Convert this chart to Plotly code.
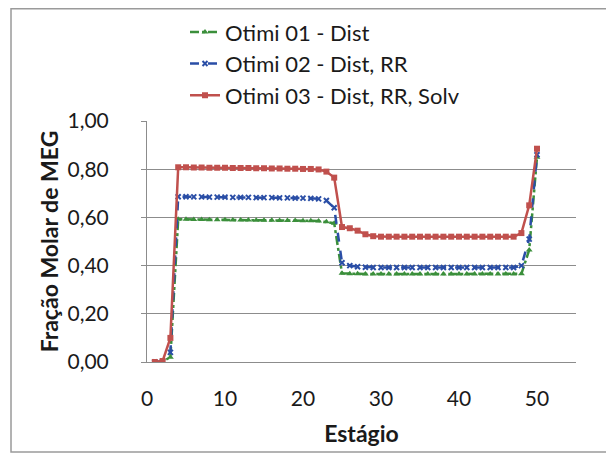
import plotly.graph_objects as go

stages = list(range(1, 51))

otimi01 = [0.000, 0.002, 0.020, 0.592, 0.592, 0.591, 0.591, 0.590, 0.590, 0.590,
           0.589, 0.589, 0.589, 0.588, 0.588, 0.588, 0.587, 0.587, 0.587, 0.586,
           0.586, 0.585, 0.582, 0.576, 0.368, 0.366, 0.366, 0.365, 0.365, 0.365,
           0.365, 0.365, 0.365, 0.365, 0.365, 0.365, 0.365, 0.365, 0.365, 0.365,
           0.365, 0.365, 0.365, 0.365, 0.365, 0.365, 0.365, 0.366, 0.465, 0.850]

otimi02 = [0.000, 0.002, 0.040, 0.686, 0.686, 0.685, 0.685, 0.684, 0.684, 0.684,
           0.683, 0.683, 0.683, 0.682, 0.682, 0.682, 0.681, 0.681, 0.680, 0.680,
           0.679, 0.677, 0.670, 0.640, 0.412, 0.400, 0.395, 0.393, 0.392, 0.392,
           0.392, 0.392, 0.392, 0.392, 0.392, 0.392, 0.392, 0.392, 0.392, 0.392,
           0.392, 0.392, 0.392, 0.392, 0.392, 0.392, 0.392, 0.400, 0.510, 0.860]

otimi03 = [0.000, 0.004, 0.100, 0.808, 0.808, 0.807, 0.807, 0.806, 0.806, 0.806,
           0.805, 0.805, 0.805, 0.804, 0.804, 0.803, 0.803, 0.802, 0.802, 0.801,
           0.801, 0.799, 0.790, 0.765, 0.560, 0.555, 0.545, 0.530, 0.522, 0.520,
           0.520, 0.520, 0.520, 0.520, 0.520, 0.520, 0.520, 0.520, 0.520, 0.520,
           0.520, 0.520, 0.520, 0.520, 0.520, 0.520, 0.520, 0.535, 0.650, 0.885]

names = ["Otimi 01 - Dist", "Otimi 02 - Dist, RR", "Otimi 03 - Dist, RR, Solv"]
x_ticks = [0, 10, 20, 30, 40, 50]
y_ticks = [0.0, 0.2, 0.4, 0.6, 0.8, 1.0]

FONT = "Lato, Open Sans, sans-serif"
GREEN = "#3b8f3b"
BLUE = "#2a4ea6"
RED = "#c0504d"

fig = go.Figure()
fig.add_trace(go.Scatter(x=stages, y=otimi01, name=names[0], mode="lines+markers",
                         legendgroup="a",
                         line=dict(color=GREEN, width=2.5, dash="dashdot"),
                         marker=dict(symbol="triangle-up", size=6, color=GREEN)))
fig.add_trace(go.Scatter(x=stages, y=otimi02, name=names[1], mode="lines+markers",
                         legendgroup="b",
                         line=dict(color=BLUE, width=2.5, dash="dash"),
                         marker=dict(symbol="x-thin", size=5, color=BLUE,
                                     line=dict(color=BLUE, width=2))))
fig.add_trace(go.Scatter(x=stages, y=otimi03, name=names[2], mode="lines+markers",
                         legendgroup="c",
                         line=dict(color=RED, width=2.5),
                         marker=dict(symbol="square", size=6, color=RED)))

# the page body adds an 8px margin, so the figure is 8px smaller than the window
fig.update_layout(
    width=606, height=448,
    margin=dict(l=139, r=38, t=113, b=94, autoexpand=False),
    paper_bgcolor="white", plot_bgcolor="white",
    separators=",.",
    font=dict(family=FONT, size=21, color="#1a1a1a"),
    showlegend=True,
    legend=dict(x=0.0886, y=0.993, xanchor="left", yanchor="top", yref="container",
                bgcolor="rgba(0,0,0,0)", traceorder="grouped",
                tracegroupgap=0, font=dict(size=22, family=FONT)),
    xaxis=dict(range=[0, 55], tickvals=x_ticks, showgrid=False,
               showline=True, linecolor="#8c8c8c", linewidth=1,
               zeroline=False, ticks="", ticklabelstandoff=18,
               title=dict(text="<b>Estágio</b>", font=dict(size=23), standoff=16)),
    yaxis=dict(range=[0, 1.0], tickvals=y_ticks, tickformat=".2f",
               showgrid=True, gridcolor="#8c8c8c", gridwidth=1,
               showline=True, linecolor="#8c8c8c", linewidth=1,
               zeroline=False, ticks="outside", ticklen=5, tickcolor="#8c8c8c",
               ticklabelstandoff=28,
               title=dict(text="<b>Fração Molar de MEG</b>", font=dict(size=23), standoff=2)),
)

# outer chart border
fig.add_shape(type="rect", xref="paper", yref="paper",
              x0=-0.317, x1=1.0862, y0=-0.3734, y1=1.4658,
              line=dict(color="#9a9a9a", width=1.5), fillcolor="rgba(0,0,0,0)", layer="below")

fig.write_html("out.html")
